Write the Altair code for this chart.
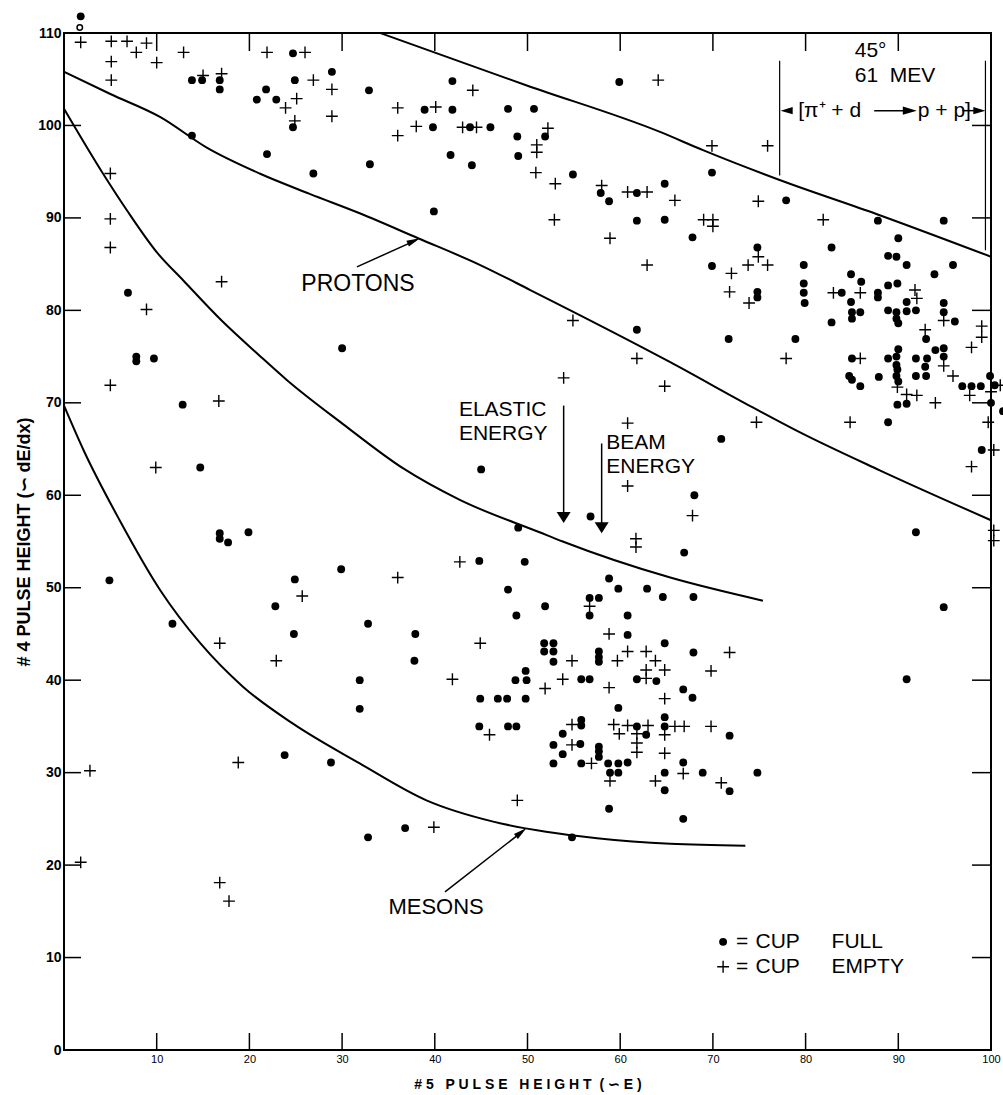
import altair as alt
import pandas as pd

# ---------------- data: cup full (dots) ----------------
full_x = [1.8, 13.8, 14.9, 16.8, 16.8, 13.8, 24.7, 24.9, 20.8, 21.8, 22.9, 24.7, 21.9, 26.9, 28.9, 6.9,
          32.9, 41.9, 38.9, 41.9, 39.8, 43.8, 46.0, 47.9, 50.7, 48.9, 49.0, 51.9, 41.7, 44.0, 33.0, 39.9,
          54.9, 57.9, 58.8, 61.8, 64.8, 61.8, 64.8, 59.9,
          69.9, 67.8, 77.9, 87.8, 94.9, 90.0, 82.8, 88.9, 89.8, 90.9, 95.9, 93.9, 79.8, 69.9, 74.8, 79.8,
          79.8, 74.8, 74.8, 84.9, 83.9, 86.0, 87.8, 88.9, 89.9,
          79.9, 87.8, 84.9, 85.0, 85.0, 85.9, 82.8, 88.9, 89.8, 89.8, 90.0, 90.9, 90.9, 91.9, 94.9, 94.9,
          96.1, 93.0, 94.0, 94.9, 94.9, 71.7, 78.9, 85.0, 84.7, 85.0, 85.9, 87.9, 88.9, 89.8, 90.0, 89.8,
          89.9, 89.8, 90.0, 91.9, 93.1, 92.9, 91.9, 93.0, 89.9, 90.9, 88.9, 96.9, 97.9, 98.9, 99.9, 100.4,
          100.0, 101.3, 99.0, 70.9, 68.0, 66.9, 91.9,
          30.0, 61.8, 45.0, 56.8, 49.0, 29.9, 44.8, 49.7, 58.8,
          7.8, 7.8, 9.7, 12.8, 14.7, 16.8, 16.8, 17.7, 19.9, 4.9, 24.9,
          11.7, 22.8, 24.8, 23.8, 28.8,
          47.9, 51.9, 48.8, 32.8, 37.9, 37.8, 31.9, 31.9, 32.8, 36.8, 54.8, 58.8, 56.7, 57.7, 56.7, 59.8,
          62.9, 64.6, 60.8, 60.8, 64.8, 51.8, 52.8, 51.8, 52.8, 52.8, 57.7, 57.7, 57.7, 49.8, 48.7, 49.9,
          44.9, 46.8, 47.8, 49.8, 55.8, 56.7, 61.8, 63.9, 59.8, 44.8, 47.9, 48.8, 55.8, 55.8, 53.8, 52.8,
          53.8, 55.7, 57.7, 57.7, 57.7, 52.8, 55.8, 58.7, 59.8, 59.8, 58.9, 60.8, 61.8, 62.8, 64.8, 64.8,
          64.8, 64.8,
          67.9, 67.9, 66.8, 67.8, 71.8, 66.8, 68.9, 74.8, 71.8, 66.8, 94.9, 90.9]
full_y = [111.8, 104.9, 104.9, 104.9, 103.9, 98.9, 107.8, 104.9, 102.8, 103.9, 102.8, 99.8, 96.9, 94.8, 105.8, 81.9,
          103.8, 104.8, 101.7, 101.7, 99.8, 99.8, 99.8, 101.8, 101.8, 98.8, 96.7, 98.8, 96.8, 95.7, 95.8, 90.7,
          94.7, 92.7, 91.8, 92.7, 93.7, 89.7, 89.8, 104.7,
          94.9, 87.9, 91.9, 89.7, 89.7, 87.8, 86.8, 85.9, 85.8, 84.9, 84.9, 83.9, 84.9, 84.8, 86.8, 82.9,
          81.9, 82.0, 81.4, 83.9, 81.9, 83.1, 81.9, 82.7, 82.9,
          80.8, 81.4, 80.9, 79.8, 79.1, 79.8, 78.7, 80.0, 79.8, 79.1, 78.6, 79.9, 80.9, 80.0, 80.8, 79.8,
          78.8, 76.9, 75.7, 75.9, 75.0, 76.9, 76.9, 74.8, 72.9, 72.5, 71.8, 72.8, 74.8, 75.0, 75.8, 74.1,
          73.6, 72.9, 72.3, 74.8, 74.8, 73.9, 72.9, 72.9, 69.8, 69.9, 67.9, 71.8, 71.8, 71.8, 72.9, 71.9,
          70.0, 69.1, 64.9, 66.1, 60.0, 53.8, 56.0,
          75.9, 77.9, 62.8, 57.7, 56.5, 52.0, 52.9, 52.8, 51.0,
          75.0, 74.5, 74.8, 69.8, 63.0, 55.9, 55.3, 54.9, 56.0, 50.8, 50.9,
          46.1, 48.0, 45.0, 31.9, 31.1,
          49.8, 48.0, 47.0, 46.1, 45.0, 42.1, 40.0, 36.9, 23.0, 24.0, 23.0, 26.1, 48.9, 48.9, 47.0, 49.9,
          49.9, 49.0, 47.0, 44.9, 44.0, 44.0, 44.0, 43.1, 43.1, 42.0, 43.1, 42.5, 42.0, 41.0, 40.0, 40.0,
          38.0, 38.0, 38.0, 38.0, 40.1, 40.1, 40.1, 39.9, 37.0, 35.0, 35.0, 35.0, 35.7, 35.1, 34.2, 33.0,
          32.0, 33.1, 32.8, 32.3, 31.7, 31.0, 31.0, 31.0, 31.0, 30.0, 30.0, 31.1, 35.0, 34.1, 36.0, 35.0,
          30.0, 28.1,
          49.0, 43.0, 39.0, 38.1, 34.0, 31.1, 30.0, 30.0, 28.0, 25.0, 47.9, 40.1]

# ---------------- data: cup empty (crosses) ----------------
empty_x = [1.8, 5.1, 6.8, 7.8, 8.9, 5.1, 10.0, 5.1, 12.9, 15.0, 17.0, 21.9, 26.0, 26.9, 28.9, 28.9,
           25.1, 23.9, 24.9, 5.0, 5.0, 5.0, 17.0,
           44.1, 36.0, 40.1, 36.0, 38.0, 43.0, 44.5, 52.2, 51.0, 51.0, 50.9, 53.0, 52.9, 58.0, 60.8, 62.9,
           58.9, 62.9, 64.1,
           69.9, 75.9, 65.9, 74.9, 69.0, 70.0, 70.0, 81.9, 72.0, 71.8, 73.8, 74.9, 75.9, 83.0, 85.9, 91.8,
           73.9, 92.0, 92.9, 94.9, 99.0, 99.0, 97.9, 85.9, 77.9, 94.9, 95.9, 89.9, 90.9, 92.0, 94.0, 97.7,
           100.0, 101.0, 99.7, 100.3, 97.9, 84.8, 74.7, 64.8, 67.8, 100.3, 100.3,
           54.9, 61.8, 53.9, 60.8, 60.8, 61.7, 61.7, 36.0, 42.7,
           8.9, 5.0, 16.7, 9.9,
           16.8, 25.7, 22.9, 18.8, 2.8, 1.8, 16.8, 17.8,
           44.9, 41.9, 45.9, 48.9, 39.9, 56.7, 58.8, 54.8, 59.7, 60.8, 62.8, 63.8, 64.8, 62.8, 62.8, 53.8,
           51.9, 58.8, 64.8, 54.8, 54.8, 56.9, 59.3, 59.9, 60.8, 63.0, 61.8, 61.8, 61.8, 64.8, 64.8, 58.9,
           63.8,
           71.8, 69.8, 65.9, 66.9, 69.8, 66.8, 70.9]
empty_y = [109.0, 109.1, 109.1, 107.9, 108.9, 106.9, 106.8, 104.9, 107.9, 105.4, 105.6, 107.9, 107.9, 104.9, 103.9, 101.0,
           102.9, 101.9, 100.5, 94.8, 89.9, 86.8, 83.1,
           103.8, 101.9, 102.0, 98.9, 99.9, 99.8, 99.8, 99.7, 97.9, 97.1, 94.9, 93.7, 89.8, 93.5, 92.8, 92.8,
           87.8, 84.9, 104.9,
           97.8, 97.8, 91.9, 91.8, 89.8, 89.8, 89.1, 89.8, 84.0, 82.0, 84.9, 85.8, 84.9, 81.9, 81.9, 82.2,
           80.8, 81.3, 77.9, 78.9, 78.3, 77.1, 76.0, 74.8, 74.8, 74.0, 72.9, 71.7, 70.9, 70.8, 70.0, 70.8,
           71.2, 71.9, 67.9, 64.9, 63.1, 67.9, 67.9, 71.8, 57.8, 56.2, 55.1,
           78.9, 74.8, 72.7, 67.8, 61.0, 55.3, 54.4, 51.1, 52.8,
           80.1, 71.9, 70.2, 63.0,
           44.0, 49.1, 42.1, 31.1, 30.2, 20.3, 18.1, 16.1,
           44.0, 40.1, 34.1, 27.0, 24.1, 48.0, 45.0, 42.1, 42.1, 43.1, 43.1, 42.1, 41.1, 41.1, 40.2, 40.1,
           39.1, 39.2, 38.0, 35.2, 33.0, 31.0, 35.2, 34.2, 35.1, 35.1, 34.2, 33.2, 32.2, 34.1, 32.1, 29.1,
           29.1,
           43.0, 41.0, 35.0, 35.0, 35.0, 29.9, 28.9]

# small open circle above the frame
open_x = [1.7]
open_y = [110.6]

# ---------------- curves ----------------
upper_x = [34.1, 50.0, 64.3, 69.0, 77.2, 87.7, 100.0]
upper_y = [110.0, 104.3, 99.3, 97.3, 94.1, 90.4, 85.8]
proton_x = [0.0, 5.0, 10.4, 15.4, 21.1, 26.5, 31.9, 38.2, 44.9, 50.3, 65.4, 74.3, 79.4, 88.0, 100.0]
proton_y = [105.8, 103.4, 100.9, 97.6, 94.8, 92.6, 90.5, 87.8, 84.9, 82.2, 74.4, 69.5, 66.8, 62.7, 57.3]
elastic_x = [0.0, 4.2, 6.8, 10.0, 12.9, 17.0, 21.1, 24.0, 30.1, 36.6, 42.7, 51.3, 53.8, 65.4, 75.4]
elastic_y = [101.8, 94.8, 90.8, 86.3, 83.2, 78.9, 75.1, 72.5, 67.7, 62.9, 59.5, 56.0, 55.0, 51.1, 48.6]
meson_x = [0.0, 2.1, 6.0, 10.4, 14.7, 19.3, 24.7, 31.9, 39.1, 46.3, 52.0, 57.5, 65.4, 73.5]
meson_y = [69.7, 64.9, 57.3, 49.7, 44.0, 39.3, 35.3, 31.0, 27.0, 24.7, 23.6, 22.9, 22.3, 22.1]

x_ticks = [10, 20, 30, 40, 50, 60, 70, 80, 90]
x_labels = [10, 20, 30, 40, 50, 60, 70, 80, 90, 100]
y_ticks = [10, 20, 30, 40, 50, 60, 70, 80, 90, 100]
y_labels = [0, 10, 20, 30, 40, 50, 60, 70, 80, 90, 100, 110]

W, H = 927, 1017
FONT = "Liberation Sans"
NB = "\u00a0"


def spaced(word):
    return NB.join(word)


xs = alt.Scale(domain=[0, 100], nice=False, zero=False)
ys = alt.Scale(domain=[0, 110], nice=False, zero=False)

x_title = (spaced("#5") + NB * 3 + spaced("PULSE") + NB * 3 + spaced("HEIGHT")
           + NB * 2 + spaced("(∽E)"))

xaxis = alt.Axis(values=x_labels, ticks=False, domain=False, grid=False, labelFont=FONT,
                 labelFontSize=11, labelPadding=3, labelColor="black", title=x_title,
                 titleFont=FONT, titleFontSize=14, titleFontWeight="bold", titleColor="black",
                 titlePadding=13, labelFlush=False)
yaxis = alt.Axis(values=y_labels, ticks=False, domain=False, grid=False, labelFont=FONT,
                 labelFontSize=14, labelFontWeight="bold", labelPadding=3, labelColor="black",
                 title="# 4 PULSE HEIGHT (∽ dE/dx)", titleFont=FONT, titleFontSize=18,
                 titleFontWeight="bold", titleColor="black", titlePadding=4, labelFlush=False)


def X():
    return alt.X("x:Q", scale=xs, axis=xaxis)


def Y():
    return alt.Y("y:Q", scale=ys, axis=yaxis)


full_df = pd.DataFrame({"x": full_x, "y": full_y})
empty_df = pd.DataFrame({"x": empty_x, "y": empty_y})
open_df = pd.DataFrame({"x": open_x, "y": open_y})

dots = alt.Chart(full_df).mark_point(shape="circle", filled=True, size=62, color="black",
                                     opacity=1).encode(x=X(), y=Y())
PLUS = "M-1,0L1,0M0,-1L0,1"
crosses = alt.Chart(empty_df).mark_point(shape=PLUS, filled=False, size=140, stroke="black",
                                         strokeWidth=1.4, opacity=1).encode(x=X(), y=Y())
opens = alt.Chart(open_df).mark_point(shape="circle", filled=False, size=30, stroke="black",
                                      strokeWidth=1.5, opacity=1).encode(x=X(), y=Y())

rows = []
for name, cx, cy in [("upper", upper_x, upper_y), ("proton", proton_x, proton_y),
                     ("elastic", elastic_x, elastic_y), ("meson", meson_x, meson_y)]:
    for i, (a, b) in enumerate(zip(cx, cy)):
        rows.append({"x": a, "y": b, "curve": name, "o": i})
curves_df = pd.DataFrame(rows)
curves = alt.Chart(curves_df).mark_line(color="black", strokeWidth=2,
                                        interpolate="monotone").encode(
    x=X(), y=Y(), detail="curve:N", order="o:Q")

# inward tick marks on all four sides
xt_df = pd.DataFrame({"x": x_ticks})
yt_df = pd.DataFrame({"y": y_ticks})
tick_bottom = alt.Chart(xt_df).mark_rule(color="black", strokeWidth=1.5).encode(
    x=X(), y=alt.value(H), y2=alt.value(H - 17))
tick_top = alt.Chart(xt_df).mark_rule(color="black", strokeWidth=1.5).encode(
    x=X(), y=alt.value(0), y2=alt.value(18))
tick_left = alt.Chart(yt_df).mark_rule(color="black", strokeWidth=1.5).encode(
    y=Y(), x=alt.value(0), x2=alt.value(17))
tick_right = alt.Chart(yt_df).mark_rule(color="black", strokeWidth=1.5).encode(
    y=Y(), x=alt.value(W), x2=alt.value(W - 19))

# ---------------- annotations ----------------
range_df = pd.DataFrame({"x": [77.2, 99.4], "y": [107.0, 107.0], "y2": [94.6, 86.5]})
range_lines = alt.Chart(range_df).mark_rule(color="black", strokeWidth=1.2).encode(
    x=X(), y=Y(), y2="y2:Q")

seg_df = pd.DataFrame({
    "x": [31.6, 41.1, 53.9, 58.0, 87.4, 96.9],
    "y": [84.7, 17.1, 69.7, 65.6, 101.6, 101.6],
    "x2": [38.0, 49.4, 53.9, 58.0, 91.0, 98.6],
    "y2": [87.6, 23.6, 58.0, 57.0, 101.6, 101.6]})
segs = alt.Chart(seg_df).mark_rule(color="black", strokeWidth=1.5).encode(
    x=X(), y=Y(), x2="x2:Q", y2="y2:Q")


def head(xv, yv, path, size, angle=0):
    d = pd.DataFrame({"x": [xv], "y": [yv]})
    return alt.Chart(d).mark_point(shape=path, filled=True, size=size, color="black",
                                   opacity=1, angle=angle).encode(x=X(), y=Y())


UP = "M0,0L-0.35,1.5L0.35,1.5Z"
DOWN = "M0,0L-0.7,-1.1L0.7,-1.1Z"
RIGHT = "M0,0L-1.4,-0.42L-1.4,0.42Z"
LEFT = "M0,0L1.4,-0.42L1.4,0.42Z"
heads = [
    head(38.4, 87.8, UP, 324, 66),
    head(49.9, 24.0, UP, 324, 52),
    head(53.9, 57.0, DOWN, 400),
    head(58.0, 55.9, DOWN, 400),
    head(92.0, 101.6, RIGHT, 400),
    head(77.3, 101.6, LEFT, 300),
    head(99.4, 101.6, RIGHT, 300),
]


def texts(xs_, ys_, ts, size, align="left"):
    d = pd.DataFrame({"x": xs_, "y": ys_, "t": ts})
    return alt.Chart(d).mark_text(font=FONT, fontSize=size, align=align, baseline="middle",
                                  color="black").encode(x=X(), y=Y(), text="t:N")


labels = [
    texts([25.6], [82.9], ["PROTONS"], 23),
    texts([42.6, 42.6], [69.2, 66.6], ["ELASTIC", "ENERGY"], 21),
    texts([58.5, 58.5], [65.6, 63.1], ["BEAM", "ENERGY"], 21),
    texts([35.0], [15.5], ["MESONS"], 22),
    texts([85.3], [108.0], ["45°"], 21),
    texts([85.3], [105.4], ["61" + NB * 2 + "MEV"], 21),
    texts([79.2], [101.6], ["[π⁺ + d"], 21),
    texts([92.1], [101.6], ["p + p]"], 21),
    texts([72.5, 72.5, 74.6, 74.6, 82.8, 82.8], [11.7, 9.0, 11.7, 9.0, 11.7, 9.0],
          ["=", "=", "CUP", "CUP", "FULL", "EMPTY"], 21),
]

leg_dot = alt.Chart(pd.DataFrame({"x": [71.1], "y": [11.7]})).mark_point(
    shape="circle", filled=True, size=62, color="black", opacity=1).encode(x=X(), y=Y())
leg_plus = alt.Chart(pd.DataFrame({"x": [71.1], "y": [9.0]})).mark_point(
    shape=PLUS, filled=False, size=140, stroke="black", strokeWidth=1.4, opacity=1).encode(
    x=X(), y=Y())

chart = alt.layer(
    dots, crosses, opens, curves, tick_bottom, tick_top, tick_left, tick_right,
    range_lines, segs, *heads, *labels, leg_dot, leg_plus
).properties(
    width=W, height=H,
    padding={"left": 64, "top": 33, "right": 12, "bottom": 45},
    autosize=alt.AutoSizeParams(type="none"),
    background="white",
).configure_view(stroke="black", strokeWidth=2)

chart.save("out.html", embed_options={"renderer": "svg", "actions": False})
